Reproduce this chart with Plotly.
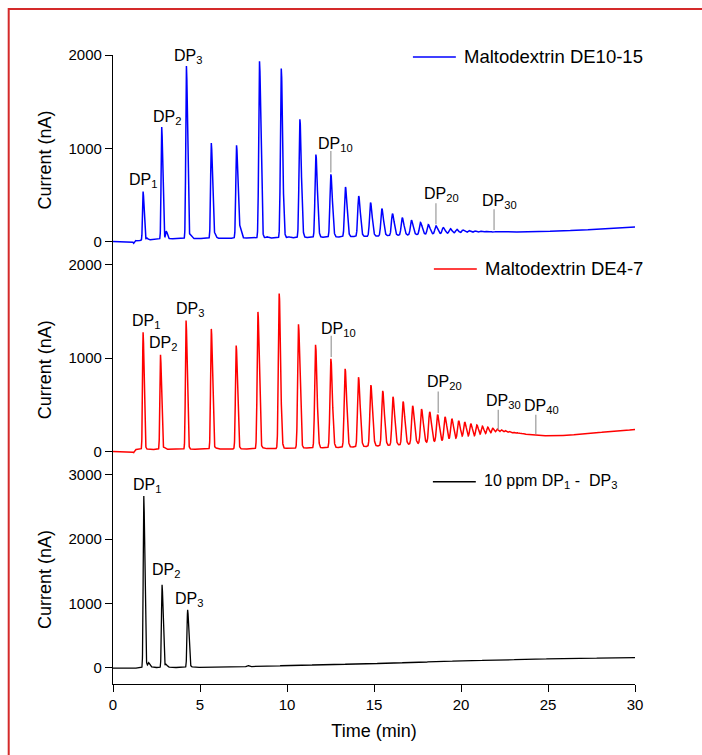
import numpy as np
import plotly.graph_objects as go

# ---- data (time in min, current in nA) ----
t_min, t_max, t_step = 0.0, 30.0, 0.005

# Maltodextrin DE10-15 (blue, top)
blue_rt = [1.73, 2.80, 4.22, 5.65, 7.10, 8.42, 9.67, 10.74, 11.66, 12.52, 13.36,
           14.12, 14.80, 15.45, 16.06, 16.62, 17.15, 17.67, 18.12, 18.56, 18.98,
           19.38, 19.75, 20.11, 20.45, 20.78, 21.10, 21.41, 21.69, 21.96, 22.21,
           22.44, 22.65]
blue_apex = [536, 1228, 1882, 1057, 1032, 1932, 1854, 1311, 932, 721, 585,
             489, 418, 354, 300, 257, 229, 204, 182, 168, 150,
             139, 132, 125, 118, 114, 111, 108, 106, 105, 104,
             104, 105]
blue_minor_rt = [1.19, 1.25, 1.95, 3.06, 4.45, 5.85, 7.30, 8.85, 10.10]
blue_minor_h = [-22, 12, 20, 80, 35, 40, 105, 12, 10]
blue_base_t = [0, 1.15, 1.5, 3.0, 6.0, 10.0, 13.0, 15.0, 18.0, 21.0, 23.5, 25.0, 27.0, 28.5, 30.0]
blue_base_v = [0, 0, 12, 30, 35, 40, 50, 58, 76, 93, 104, 110, 124, 140, 157]

# Maltodextrin DE4-7 (red, middle)
red_rt = [1.73, 2.73, 4.20, 5.65, 7.08, 8.33, 9.55, 10.66, 11.64, 12.52, 13.34,
          14.11, 14.82, 15.50, 16.09, 16.67, 17.22, 17.73, 18.20, 18.65, 19.08,
          19.47, 19.86, 20.21, 20.56, 20.91, 21.23, 21.54, 21.83, 22.09, 22.33,
          22.56, 22.79, 23.02, 23.24, 23.45, 23.66, 23.86, 24.06, 24.26]
red_apex = [1279, 1036, 1404, 1314, 1136, 1496, 1693, 1364, 1143, 993, 886,
            796, 711, 650, 586, 536, 489, 454, 425, 396, 371,
            350, 329, 314, 296, 282, 268, 257, 243, 232, 222,
            214, 207, 199, 194, 188, 184, 180, 177, 174]
red_minor_rt = [1.19, 2.95, 4.90, 5.90, 8.60]
red_minor_h = [-20, 18, 8, 10, 8]
red_base_t = [0, 1.15, 1.25, 3.0, 8.0, 12.0, 13.6, 16.7, 18.65, 20.6, 22.0, 24.3, 26.0, 28.0, 30.0]
red_base_v = [0, 0, 22, 22, 28, 38, 46, 71, 96, 121, 150, 168, 172, 204, 236]

# 10 ppm DP1 - DP3 standard (black, bottom)
std_rt = [1.77, 2.82, 4.29]
std_apex = [2670, 1291, 904]
std_minor_rt = [1.20, 2.05, 3.05, 5.80, 7.72]
std_minor_h = [-12, 55, 35, 6, 20]
std_base_t = [0, 1.15, 1.5, 3.0, 5.0, 7.0, 10.0, 15.0, 20.0, 25.0, 30.0]
std_base_v = [-3, -3, 0, 4, 8, 14, 36, 67, 108, 140, 160]

# annotation labels: (subscript, label time, label current) and leader lines
blue_labels = [("1", 1.70, 660), ("2", 3.11, 1325), ("3", 4.30, 1985),
               ("10", 12.79, 1040), ("20", 18.89, 500), ("30", 22.20, 430)]
blue_leaders = [(12.52, 740, 971), (18.56, 185, 410), (21.90, 124, 346)]
red_labels = [("1", 1.89, 1395), ("2", 2.90, 1155), ("3", 4.40, 1525),
              ("10", 12.94, 1310), ("20", 19.04, 740), ("30", 22.45, 532),
              ("40", 24.62, 478)]
red_leaders = [(12.54, 1012, 1240), (18.69, 412, 643), (22.14, 233, 447), (24.30, 186, 393)]
std_labels = [("1", 1.93, 2840), ("2", 3.06, 1515), ("3", 4.35, 1058)]

legend_names = ["Maltodextrin DE10-15", "Maltodextrin DE4-7", "10 ppm DP<sub>1</sub> -  DP<sub>3</sub>"]


def chromatogram(t, rt, apex, minor_rt, minor_h, base_t, base_v, tail_a, tail_tau):
    base = np.interp(t, base_t, base_v)
    y = base.copy()
    peaks = [(r, a - np.interp(r, base_t, base_v)) for r, a in zip(rt, apex)]
    peaks += list(zip(minor_rt, minor_h))
    for r, h in peaks:
        sl = 0.03 + 0.0017 * r
        sr = 1.7 * sl
        d = t - r
        left = np.exp(-0.5 * (d / sl) ** 2)
        right = (1 - tail_a) * np.exp(-0.5 * (d / sr) ** 2) + tail_a * np.exp(-np.clip(d, 0, None) / tail_tau)
        y += h * np.where(d < 0, left, right)
    return y


t = np.arange(t_min, t_max + t_step / 2, t_step)
y_blue = chromatogram(t, blue_rt, blue_apex, blue_minor_rt, blue_minor_h, blue_base_t, blue_base_v, 0.02, 0.12)
y_red = chromatogram(t, red_rt, red_apex, red_minor_rt, red_minor_h, red_base_t, red_base_v, 0.02, 0.12)
y_std = chromatogram(t, std_rt, std_apex, std_minor_rt, std_minor_h, std_base_t, std_base_v, 0.035, 0.22)

FONT = "Liberation Sans, Arial, sans-serif"
W, H = 702, 755
ML, MR, MT, MB = 112.5, 66.5, 55, 70.7
PW, PH = W - ML - MR, H - MT - MB

fig = go.Figure()
fig.add_trace(go.Scatter(x=t, y=y_blue, mode="lines", name="Maltodextrin DE10-15",
                         line=dict(color="#0000ff", width=1.5), xaxis="x", yaxis="y3"))
fig.add_trace(go.Scatter(x=t, y=y_red, mode="lines", name="Maltodextrin DE4-7",
                         line=dict(color="#ff0000", width=1.5), xaxis="x", yaxis="y2"))
fig.add_trace(go.Scatter(x=t, y=y_std, mode="lines", name="10 ppm DP1 - DP3",
                         line=dict(color="#000000", width=1.3), xaxis="x", yaxis="y"))

annotations = []
shapes = []
for labels, yref in [(blue_labels, "y3"), (red_labels, "y2"), (std_labels, "y")]:
    for sub, lx, ly in labels:
        annotations.append(dict(x=lx, y=ly, xref="x", yref=yref, text="DP<sub>%s</sub>" % sub,
                                showarrow=False, xanchor="center", yanchor="middle",
                                font=dict(family=FONT, size=16, color="#000")))
for leaders, yref in [(blue_leaders, "y3"), (red_leaders, "y2")]:
    for lx, y0, y1 in leaders:
        shapes.append(dict(type="line", xref="x", yref=yref, x0=lx, x1=lx, y0=y0, y1=y1,
                           line=dict(color="#9a9a9a", width=1.2)))

# hand-drawn legends (line sample + text), positions in pixels
legend_px = [(413, 456, 57, 18.5, "#0000ff"), (434, 477, 269, 18.5, "#ff0000"), (433, 476, 482, 16, "#000000")]
for name, (x0, x1, py, fs, col) in zip(legend_names, legend_px):
    yp = (H - MB - py) / PH
    shapes.append(dict(type="line", xref="paper", yref="paper", x0=(x0 - ML) / PW, x1=(x1 - ML) / PW,
                       y0=yp, y1=yp, line=dict(color=col, width=1.5)))
    annotations.append(dict(x=(x1 + 6 - ML) / PW, y=yp, xref="paper", yref="paper", text=name,
                            showarrow=False, xanchor="left", yanchor="middle",
                            font=dict(family=FONT, size=fs, color="#000")))

# red frame around the figure
shapes.append(dict(type="rect", xref="paper", yref="paper",
                   x0=(8 - ML) / PW, x1=(W + 5 - ML) / PW,
                   y0=(H - MB - (H + 5)) / PH, y1=(H - MB - 9) / PH,
                   line=dict(color="#d42a2a", width=2), fillcolor="rgba(0,0,0,0)", layer="above"))

d1 = 209.3 / PH
d2 = d1 + 210 / PH
axis_common = dict(showline=True, linecolor="#000", linewidth=1.2, ticks="outside", ticklen=7,
                   tickwidth=1.2, tickcolor="#000", showgrid=False, zeroline=False,
                   tickfont=dict(family=FONT, size=15, color="#000"), anchor="x",
                   title=dict(text="Current (nA)", font=dict(family=FONT, size=18, color="#000"), standoff=12))

fig.update_layout(
    width=W, height=H,
    margin=dict(l=ML, r=MR, t=MT, b=MB),
    paper_bgcolor="white", plot_bgcolor="white",
    showlegend=False,
    xaxis=dict(range=[0, 30], dtick=5, showline=True, linecolor="#000", linewidth=1.2,
               ticks="outside", ticklen=7, tickwidth=1.2, tickcolor="#000",
               showgrid=False, zeroline=False, anchor="y",
               tickfont=dict(family=FONT, size=15, color="#000"),
               title=dict(text="Time (min)", font=dict(family=FONT, size=18, color="#000"), standoff=12)),
    yaxis=dict(domain=[0, d1], range=[-250, 3000], tickvals=[0, 1000, 2000, 3000], **axis_common),
    yaxis2=dict(domain=[d1, d2], range=[-250, 2000], tickvals=[0, 1000, 2000], **axis_common),
    yaxis3=dict(domain=[d2, 1], range=[-250, 2000], tickvals=[0, 1000, 2000], **axis_common),
    annotations=annotations,
    shapes=shapes,
)

# the page's default body margin would shift the figure by 8 px
fig.write_html("out.html", config={"displayModeBar": False},
               post_script="document.body.style.margin='0';document.body.style.overflow='hidden';")
